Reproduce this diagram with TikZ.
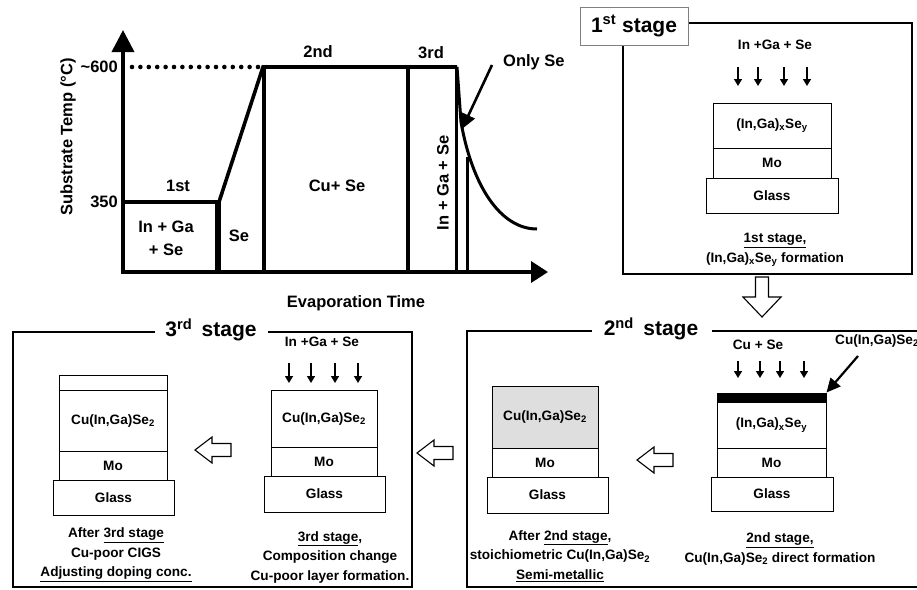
\documentclass[tikz,border=0pt]{standalone}
\usepackage{fontspec}
\setmainfont{Liberation Sans}
\usetikzlibrary{arrows.meta}
\newcommand\myhleft[2]{\draw[hol] (#1,#2) -- ++(17,-13) -- ++(0,6.5) -- ++(19,0) -- ++(0,13) -- ++(-19,0) -- ++(0,6.5) -- cycle;}
\begin{document}
\begin{tikzpicture}[x=1pt,y=-1pt,
  every node/.style={font=\bfseries\fontsize{13.6}{15}\selectfont, inner sep=1pt},
  gfont/.style={font=\bfseries\fontsize{16.5}{19}\selectfont},
  tfont/.style={font=\bfseries\fontsize{21}{24}\selectfont},
  capt/.style={align=center, font=\bfseries\fontsize{13.6}{19.5}\selectfont},
  gline/.style={line width=3.6pt},
  sbox/.style={draw, line width=1.3pt},
  lay/.style={draw, line width=0.9pt, inner sep=0pt},
  hol/.style={draw, line width=1.1pt, fill=white, line join=miter},
  dep/.style={line width=1.4pt, -{Triangle[length=7pt,width=8pt]}}
]
\useasboundingbox (0,0) rectangle (917,589);

% ---------------- graph ----------------
\draw[gline, -{Triangle[length=22pt,width=22pt]}] (123,272) -- (123,30);
\draw[gline, -{Triangle[length=17pt,width=21pt]}] (121,272) -- (548,272);
\draw[line width=4.6pt, line cap=round, dash pattern=on 0pt off 8.4pt] (132,67) -- (258,67);
\draw[gline] (123,202) -- (217,202) -- (217,272);
\draw[gline, line join=miter] (219,272) -- (219,202) -- (263,67) -- (457,67);
\draw[gline] (264,67) -- (264,272);
\draw[gline] (408,67) -- (408,272);
\draw[line width=3pt] (456,67) -- (456,272);
\draw[line width=3pt] (457,67) -- (461,122) .. controls (472,185) and (500,229) .. (537,229);
\draw[line width=3pt] (467,157) -- (467,272);

\node[gfont, rotate=90] (ylab) at (68,137) {Substrate Temp (°C)};
\node[gfont, anchor=east] (t600) at (119,67) {\textasciitilde600};
\node[gfont, anchor=east] (t350) at (119,202) {350};
\node[gfont] (g1st) at (178,186) {1st};
\node[gfont, align=center, font=\bfseries\fontsize{16.5}{23}\selectfont] (gingase) at (166,238) {In + Ga\\+ Se};
\node[gfont] (gse) at (239,236) {Se};
\node[gfont] (g2nd) at (318,52) {2nd};
\node[gfont] (gcuse) at (337,186) {Cu+ Se};
\node[gfont] (g3rd) at (431,53) {3rd};
\node[gfont, rotate=90] (g3dep) at (443,183) {In + Ga + Se};
\node[gfont, anchor=west] (gonly) at (502,62) {Only Se};
\node[gfont] (gtime) at (356,303) {Evaporation Time};
\coordinate (ostart) at (492,65);
\coordinate (otip) at (462,129);
\draw[line width=2.6pt, -{Triangle[length=15pt,width=14pt]}] (ostart) -- (otip);

% ---------------- 1st stage ----------------
\draw[sbox] (623,23) rectangle (912,274);
\node[draw=gray, line width=0.8pt, fill=white, tfont, minimum width=108pt, minimum height=38pt] (s1) at (634,26) {1\textsuperscript{st} stage};
\node (s1dep) at (775,45) {In +Ga + Se};
\foreach \x in {738,758,784,807} \draw[dep] (\x,67) -- (\x,86);
\node[lay, minimum width=118pt, minimum height=45pt] (s1a) at (772,125.5) {(In,Ga)\textsubscript{x}Se\textsubscript{y}};
\node[lay, minimum width=118pt, minimum height=30pt] (s1b) at (772,163) {Mo};
\node[lay, minimum width=132pt, minimum height=35pt] (s1c) at (772,195.5) {Glass};
\node[capt] (s1cap) at (775,250) {\underline{1st stage,}\\(In,Ga)\textsubscript{x}Se\textsubscript{y} formation};

% hollow down arrow
\draw[hol] (762,317) -- (743,297) -- (755.5,297) -- (755.5,277) -- (768.5,277) -- (768.5,297) -- (781,297) -- cycle;

% ---------------- 2nd stage ----------------
\draw[line width=1.3pt] (592,331) -- (467,331) -- (467,587) -- (920,587);
\draw[line width=1.3pt] (712,331) -- (920,331);
\node[tfont] (s2t) at (651,329) {2\textsuperscript{nd}\hspace{0.45em}stage};
\node (s2dep) at (758,345) {Cu + Se};
\foreach \x in {738,760,780,804} \draw[dep] (\x,361) -- (\x,378);
\node[lay, fill=black, minimum width=109pt, minimum height=9pt] (s2k) at (771.5,397.5) {};
\node[lay, minimum width=109pt, minimum height=46pt] (s2a) at (771.5,425) {(In,Ga)\textsubscript{x}Se\textsubscript{y}};
\node[lay, minimum width=109pt, minimum height=29pt] (s2b) at (771.5,462.5) {Mo};
\node[lay, minimum width=122pt, minimum height=34pt] (s2c) at (772,494) {Glass};
\node[anchor=west] (s2lbl) at (834,341) {Cu(In,Ga)Se\textsubscript{2}};
\coordinate (s2from) at (858,356);
\draw[line width=2.2pt, -{Triangle[length=14pt,width=13pt]}] (s2from) -- (s2k.north east);
\node[capt] (s2cap) at (780,549) {\underline{2nd stage,}\\Cu(In,Ga)Se\textsubscript{2} direct formation};

\node[lay, fill=black!13, minimum width=106pt, minimum height=62pt] (s2la) at (545,417) {Cu(In,Ga)Se\textsubscript{2}};
\node[lay, minimum width=106pt, minimum height=29pt] (s2lb) at (545,462.5) {Mo};
\node[lay, minimum width=121pt, minimum height=36pt] (s2lc) at (547.5,495) {Glass};
\node[capt] (s2lcap) at (560,556) {After \underline{2nd stage},\\stoichiometric Cu(In,Ga)Se\textsubscript{2}\\\underline{Semi-metallic}};
\myhleft{637}{460}

% between boxes
\myhleft{417}{453}

% ---------------- 3rd stage ----------------
\draw[line width=1.3pt] (155,332) -- (13,332) -- (13,587) -- (412,587) -- (412,332) -- (268,332);
\node[tfont] (s3t) at (211,330) {3\textsuperscript{rd}\hspace{0.45em}stage};
\node (s3dep) at (322,342) {In +Ga + Se};
\foreach \x in {289,311,335,358} \draw[dep] (\x,363) -- (\x,383);
\node[lay, minimum width=106pt, minimum height=57pt] (s3a) at (324,418.5) {Cu(In,Ga)Se\textsubscript{2}};
\node[lay, minimum width=106pt, minimum height=29pt] (s3b) at (324,461.5) {Mo};
\node[lay, minimum width=121pt, minimum height=36pt] (s3c) at (324.5,494) {Glass};
\node[capt] (s3cap) at (330,557) {\underline{3rd stage},\\Composition change\\Cu-poor layer formation.};

\myhleft{195}{450}
\node[lay, minimum width=108pt, minimum height=15pt] (s3lt) at (113,382.5) {};
\node[lay, minimum width=108pt, minimum height=61pt] (s3la) at (113,420.5) {Cu(In,Ga)Se\textsubscript{2}};
\node[lay, minimum width=108pt, minimum height=29pt] (s3lb) at (113,465.5) {Mo};
\node[lay, minimum width=121pt, minimum height=35pt] (s3lc) at (113.5,497.5) {Glass};
\node[capt] (s3lcap) at (116,555) {After \underline{3rd stage}\\Cu-poor CIGS\\\underline{Adjusting doping conc.}};
\end{tikzpicture}
\end{document}
